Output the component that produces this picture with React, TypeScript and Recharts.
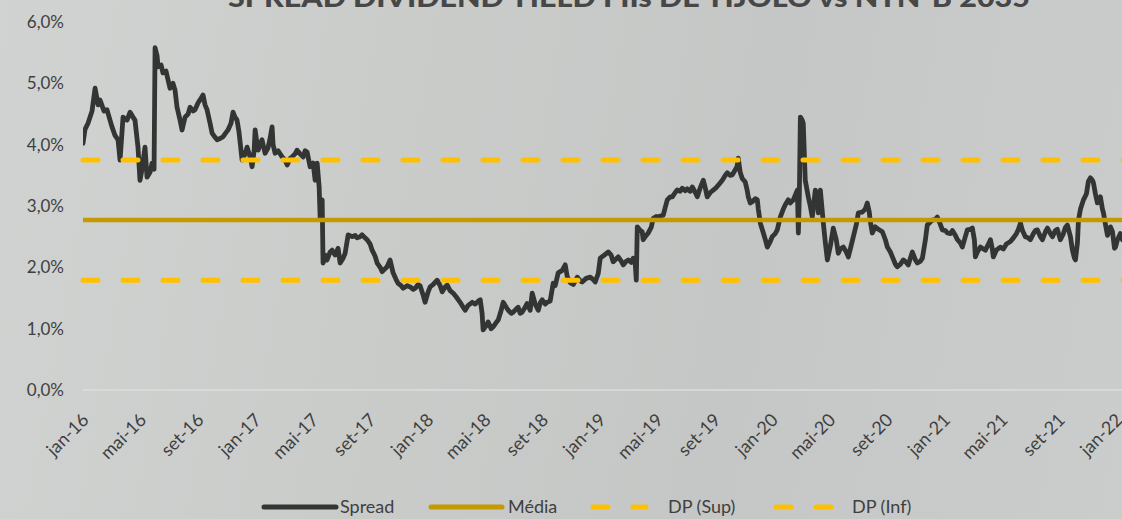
import React from 'react';
import { LineChart, Line, XAxis, YAxis, ReferenceLine } from 'recharts';

// month index since jan-16 (fractional)
const MONTHS: number[] = [
  0, 0.14, 0.35, 0.63, 0.84, 1.05, 1.18, 1.46, 1.67, 1.88, 2.02, 2.23, 2.44, 2.58, 2.79, 3.07, 3.28, 3.48, 3.62, 3.83,
  3.97, 4.11, 4.32, 4.46, 4.67, 4.81, 4.95, 5.02, 5.16, 5.23, 5.44, 5.57, 5.78, 6.06, 6.27, 6.41, 6.55, 6.76, 6.9, 7.11,
  7.32, 7.46, 7.67, 7.8, 8.01, 8.15, 8.36, 8.5, 8.64, 8.85, 8.99, 9.2, 9.34, 9.55, 9.76, 9.97, 10.1, 10.31, 10.45, 10.59,
  10.73, 10.87, 11.08, 11.29, 11.43, 11.64, 11.78, 11.92, 11.99, 12.13, 12.2, 12.33, 12.47, 12.68, 12.89, 13.03, 13.17, 13.24, 13.38, 13.59,
  13.87, 14.08, 14.22, 14.43, 14.56, 14.77, 14.91, 15.12, 15.33, 15.47, 15.61, 15.82, 16.03, 16.17, 16.31, 16.45, 16.52, 16.66, 16.72, 16.86,
  17.0, 17.21, 17.35, 17.56, 17.77, 17.91, 18.12, 18.26, 18.47, 18.75, 18.96, 19.09, 19.3, 19.44, 19.65, 19.79, 20.0, 20.14, 20.35, 20.49,
  20.7, 20.84, 21.05, 21.18, 21.39, 21.6, 21.81, 21.95, 22.16, 22.3, 22.58, 22.79, 23.0, 23.14, 23.34, 23.48, 23.69, 23.83, 24.04, 24.18,
  24.39, 24.67, 24.88, 25.02, 25.23, 25.37, 25.57, 25.78, 25.99, 26.27, 26.48, 26.62, 26.83, 27.11, 27.32, 27.53, 27.67, 27.8, 27.87, 28.08,
  28.22, 28.43, 28.57, 28.78, 28.92, 29.13, 29.27, 29.48, 29.62, 29.83, 29.97, 30.17, 30.31, 30.45, 30.59, 30.8, 30.94, 31.15, 31.29, 31.5,
  31.71, 31.85, 31.99, 32.2, 32.33, 32.54, 32.75, 32.89, 33.1, 33.38, 33.59, 33.73, 33.94, 34.15, 34.43, 34.63, 34.77, 35.05, 35.33, 35.54,
  35.68, 35.89, 36.03, 36.31, 36.59, 36.79, 36.93, 37.14, 37.28, 37.49, 37.63, 37.84, 37.98, 38.19, 38.33, 38.47, 38.54, 38.61, 38.82, 38.95,
  39.02, 39.23, 39.37, 39.58, 39.72, 39.93, 40.07, 40.28, 40.42, 40.56, 40.7, 40.91, 41.05, 41.25, 41.39, 41.6, 41.74, 41.95, 42.09, 42.3,
  42.44, 42.65, 42.79, 43.0, 43.21, 43.34, 43.48, 43.69, 43.9, 44.11, 44.32, 44.53, 44.74, 44.88, 45.09, 45.23, 45.44, 45.57, 45.64, 45.78,
  45.92, 46.13, 46.27, 46.34, 46.48, 46.62, 46.83, 46.97, 47.04, 47.18, 47.39, 47.53, 47.67, 47.87, 48.01, 48.22, 48.36, 48.57, 48.78, 48.92,
  49.13, 49.27, 49.48, 49.62, 49.76, 49.83, 49.9, 49.97, 50.1, 50.17, 50.31, 50.52, 50.66, 50.8, 51.01, 51.15, 51.22, 51.36, 51.57, 51.71,
  51.85, 52.06, 52.26, 52.47, 52.61, 52.75, 52.96, 53.17, 53.31, 53.45, 53.66, 53.87, 54.01, 54.28, 54.49, 54.63, 54.77, 54.84, 54.98, 55.19,
  55.4, 55.68, 55.89, 56.03, 56.24, 56.38, 56.59, 56.72, 56.93, 57.14, 57.35, 57.49, 57.63, 57.77, 57.98, 58.12, 58.33, 58.47, 58.68, 58.81,
  59.02, 59.16, 59.37, 59.51, 59.72, 59.86, 60.07, 60.21, 60.42, 60.56, 60.77, 60.91, 61.11, 61.25, 61.46, 61.6, 61.81, 61.95, 62.09, 62.16,
  62.3, 62.51, 62.72, 62.86, 63.07, 63.21, 63.34, 63.41, 63.62, 63.9, 64.11, 64.32, 64.6, 64.81, 65.02, 65.16, 65.3, 65.44, 65.64, 65.85,
  65.99, 66.2, 66.34, 66.48, 66.69, 66.83, 67.04, 67.18, 67.39, 67.53, 67.73, 67.87, 68.08, 68.29, 68.43, 68.57, 68.78, 68.92, 69.06, 69.13,
  69.27, 69.34, 69.48, 69.69, 69.9, 70.03, 70.17, 70.31, 70.38, 70.52, 70.66, 70.87, 71.01, 71.08, 71.22, 71.36, 71.57, 71.71, 71.85, 71.92,
  72.06, 72.26, 72.4, 72.82,
];

// spread dividend yield (%)
const SPREAD: number[] = [
  4.02, 4.25, 4.35, 4.55, 4.92, 4.65, 4.73, 4.55, 4.57, 4.4, 4.29, 4.15, 4.08, 3.75, 4.45, 4.4, 4.53, 4.45, 4.4, 3.96,
  3.42, 3.6, 3.96, 3.47, 3.55, 3.7, 3.6, 5.58, 5.45, 5.27, 5.3, 5.17, 5.2, 4.92, 5.0, 4.89, 4.61, 4.4, 4.24, 4.45,
  4.5, 4.61, 4.55, 4.57, 4.68, 4.73, 4.81, 4.65, 4.57, 4.35, 4.19, 4.12, 4.08, 4.1, 4.13, 4.2, 4.24, 4.35, 4.53, 4.45,
  4.4, 4.2, 3.75, 3.85, 3.96, 3.8, 3.64, 3.9, 4.24, 4.0, 3.91, 4.0, 4.08, 3.86, 3.95, 4.1, 4.29, 4.0, 3.86, 3.9,
  3.8, 3.75, 3.67, 3.78, 3.8, 3.85, 3.91, 3.85, 3.8, 3.9, 3.88, 3.64, 3.7, 3.42, 3.7, 3.31, 2.8, 3.1, 2.07, 2.2,
  2.12, 2.25, 2.28, 2.2, 2.31, 2.07, 2.15, 2.23, 2.53, 2.5, 2.52, 2.48, 2.5, 2.53, 2.48, 2.45, 2.38, 2.28, 2.18, 2.07,
  2.0, 1.93, 1.98, 2.01, 2.12, 1.91, 1.8, 1.74, 1.7, 1.66, 1.7, 1.68, 1.64, 1.66, 1.72, 1.7, 1.55, 1.43, 1.6, 1.68,
  1.72, 1.79, 1.7, 1.6, 1.68, 1.71, 1.62, 1.58, 1.52, 1.43, 1.35, 1.3, 1.38, 1.43, 1.4, 1.45, 1.47, 1.25, 0.98, 1.05,
  1.11, 1.0, 1.03, 1.1, 1.14, 1.3, 1.43, 1.35, 1.3, 1.25, 1.27, 1.32, 1.35, 1.25, 1.27, 1.35, 1.41, 1.3, 1.58, 1.4,
  1.3, 1.42, 1.47, 1.4, 1.43, 1.45, 1.74, 1.7, 1.91, 1.95, 2.04, 1.85, 1.75, 1.72, 1.84, 1.78, 1.76, 1.82, 1.84, 1.8,
  1.76, 1.9, 2.15, 2.2, 2.25, 2.2, 2.09, 2.14, 2.17, 2.1, 2.04, 2.1, 2.12, 2.08, 2.15, 2.05, 1.79, 2.66, 2.6, 2.58,
  2.45, 2.52, 2.56, 2.65, 2.8, 2.83, 2.82, 2.84, 2.85, 2.98, 3.1, 3.15, 3.15, 3.22, 3.26, 3.24, 3.29, 3.25, 3.28, 3.24,
  3.31, 3.22, 3.15, 3.3, 3.42, 3.3, 3.15, 3.22, 3.26, 3.3, 3.36, 3.42, 3.5, 3.54, 3.5, 3.51, 3.59, 3.65, 3.78, 3.55,
  3.45, 3.39, 3.25, 3.15, 3.05, 3.07, 3.12, 3.1, 2.95, 2.72, 2.56, 2.45, 2.33, 2.42, 2.5, 2.55, 2.61, 2.82, 2.95, 3.02,
  3.1, 3.05, 3.1, 3.18, 3.26, 2.56, 3.2, 4.45, 4.4, 4.35, 3.42, 3.15, 3.0, 2.82, 3.26, 3.1, 2.89, 3.26, 2.72, 2.4,
  2.12, 2.35, 2.64, 2.45, 2.23, 2.3, 2.33, 2.25, 2.17, 2.3, 2.5, 2.7, 2.89, 2.9, 2.95, 3.05, 2.9, 2.75, 2.56, 2.66,
  2.62, 2.58, 2.45, 2.33, 2.25, 2.17, 2.05, 2.01, 2.05, 2.12, 2.08, 2.04, 2.15, 2.25, 2.12, 2.07, 2.1, 2.15, 2.45, 2.69,
  2.74, 2.77, 2.78, 2.82, 2.7, 2.61, 2.6, 2.56, 2.55, 2.6, 2.52, 2.45, 2.4, 2.33, 2.5, 2.61, 2.62, 2.64, 2.45, 2.17,
  2.25, 2.33, 2.3, 2.28, 2.38, 2.45, 2.3, 2.17, 2.28, 2.33, 2.3, 2.38, 2.42, 2.48, 2.55, 2.62, 2.72, 2.6, 2.5, 2.48,
  2.45, 2.55, 2.6, 2.61, 2.5, 2.45, 2.58, 2.64, 2.55, 2.5, 2.6, 2.62, 2.45, 2.55, 2.65, 2.69, 2.5, 2.28, 2.15, 2.12,
  2.4, 2.77, 2.95, 3.1, 3.2, 3.4, 3.46, 3.42, 3.38, 3.2, 3.05, 3.15, 2.95, 2.89, 2.7, 2.52, 2.66, 2.58, 2.31, 2.33,
  2.45, 2.55, 2.45, 2.5,
];

const MEDIA = 2.77;
const DP_SUP = 3.75;
const DP_INF = 1.79;

const X_TICK_LABELS: string[] = [
  'jan-16', 'mai-16', 'set-16', 'jan-17', 'mai-17', 'set-17', 'jan-18', 'mai-18', 'set-18', 'jan-19',
  'mai-19', 'set-19', 'jan-20', 'mai-20', 'set-20', 'jan-21', 'mai-21', 'set-21', 'jan-22',
];
const X_TICKS: number[] = X_TICK_LABELS.map((_, i) => i * 4);
const Y_TICKS: number[] = [0, 1, 2, 3, 4, 5, 6];
const Y_TICK_LABELS: string[] = ['0,0%', '1,0%', '2,0%', '3,0%', '4,0%', '5,0%', '6,0%'];

const data = MONTHS.map((m, i) => ({ m, spread: SPREAD[i] }));

const FONT = 'Lato, "Open Sans", sans-serif';
const TEXT = '#3f3f3f';

const XTick = (props: any) => {
  const { x, y, payload } = props;
  const idx = X_TICKS.indexOf(payload.value);
  const label = idx >= 0 ? X_TICK_LABELS[idx] : '';
  return (
    <g transform={`translate(${x + 7},${y + 23})`}>
      <text x={0} y={0} textAnchor="end" transform="rotate(-45)" fontSize={18} fontFamily={FONT} fill={TEXT}>
        {label}
      </text>
    </g>
  );
};

const legendItems = [
  { name: 'Spread', color: '#333535', dash: undefined as string | undefined, x1: 264, x2: 336, tx: 340 },
  { name: 'Média', color: '#c49a00', dash: undefined, x1: 431, x2: 502, tx: 508 },
  { name: 'DP (Sup)', color: '#ffc000', dash: '15 25', x1: 593, x2: 646, tx: 668 },
  { name: 'DP (Inf)', color: '#ffc000', dash: '15 25', x1: 776, x2: 838, tx: 852 },
];

export default function App() {
  return (
    <div
      style={{
        position: 'fixed',
        left: 0,
        top: 0,
        width: 1122,
        height: 519,
        overflow: 'hidden',
        background: 'linear-gradient(100deg, #d1d3d2 0%, #caccca 35%, #c5c7c6 65%, #cbcdcc 100%)',
      }}
    >
      <svg width={1122} height={30} style={{ position: 'absolute', left: 0, top: 0 }}>
        <text
          x={228}
          y={7}
          textLength={802}
          lengthAdjust="spacingAndGlyphs"
          fontSize={26}
          fontWeight={900}
          fontFamily={FONT}
          fill="#474747"
        >
          SPREAD DIVIDEND YIELD FIIs DE TIJOLO vs NTN-B 2035
        </text>
      </svg>
      <div style={{ position: 'absolute', left: 0, top: 0 }}>
        <LineChart width={1140} height={519} data={data} margin={{ top: 22, right: 9, bottom: 69, left: 8 }}>
          <XAxis
            dataKey="m"
            type="number"
            domain={[0, 73]}
            ticks={X_TICKS}
            interval={0}
            tick={<XTick />}
            tickLine={false}
            axisLine={{ stroke: '#dcdddc', strokeWidth: 1.5 }}
            height={60}
            allowDataOverflow
          />
          <YAxis
            type="number"
            domain={[0, 6]}
            ticks={Y_TICKS}
            tickFormatter={(v: number) => Y_TICK_LABELS[Y_TICKS.indexOf(v)]}
            tickLine={false}
            axisLine={false}
            tickMargin={13}
            width={75}
            tick={{ fontSize: 17, fontFamily: FONT, fill: TEXT }}
          />
          <Line
            type="linear"
            dataKey="spread"
            stroke="#333535"
            strokeWidth={4.8}
            strokeLinejoin="round"
            strokeLinecap="round"
            dot={false}
            activeDot={false}
            isAnimationActive={false}
          />
          <ReferenceLine y={MEDIA} stroke="#c49a00" strokeWidth={4.5} zIndex={450} />
          <ReferenceLine y={DP_SUP} stroke="#ffc000" strokeWidth={5} strokeDasharray="15 25" strokeLinecap="round" zIndex={450} />
          <ReferenceLine y={DP_INF} stroke="#ffc000" strokeWidth={5} strokeDasharray="15 25" strokeLinecap="round" zIndex={450} />
        </LineChart>
      </div>
      <svg width={1122} height={30} style={{ position: 'absolute', left: 0, top: 493 }}>
        {legendItems.map((it) => (
          <g key={it.name}>
            <line
              x1={it.x1}
              y1={14}
              x2={it.x2}
              y2={14}
              stroke={it.color}
              strokeWidth={5}
              strokeLinecap="round"
              strokeDasharray={it.dash}
            />
            <text x={it.tx} y={20} fontSize={18} fontFamily={FONT} fill={TEXT}>
              {it.name}
            </text>
          </g>
        ))}
      </svg>
    </div>
  );
}
